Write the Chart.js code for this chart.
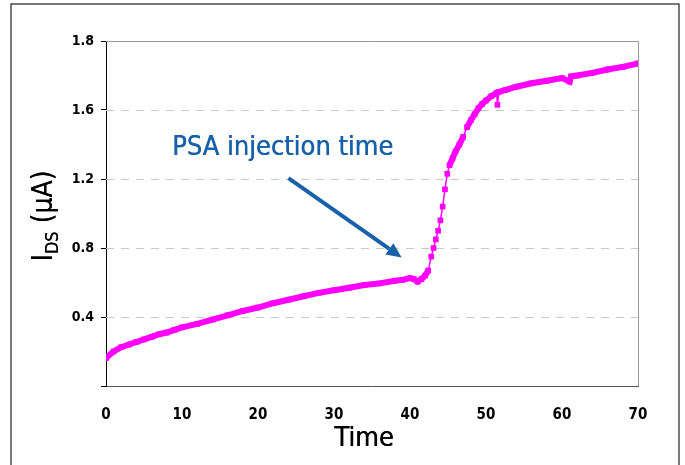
<!DOCTYPE html>
<html>
<head>
<meta charset="utf-8">
<script src="https://cdn.jsdelivr.net/npm/chart.js@4"></script>
<style>
  body { margin: 0; background: #fff; }
  #wrap { width: 685px; height: 465px; position: relative; }
</style>
</head>
<body>
<div id="wrap"><canvas id="chart" width="685" height="465"></canvas></div>
<script>
// time (min) and drain current readings
const times = [0, 1, 2, 3, 4, 5, 6, 7, 8, 9, 10, 12, 14, 16, 18, 20, 22, 24, 26, 28, 30, 32, 34, 36, 38, 39, 40, 40.5, 41, 41.5, 42, 42.4, 42.8, 43.1, 43.4, 43.7, 44.0, 44.3, 44.6, 44.9, 45.2, 45.6, 46.0, 46.5, 47.0, 47.5, 48.0, 48.5, 49.0, 49.5, 50.0, 50.7, 51.4, 51.5, 51.7, 52.5, 54, 56, 58, 60, 61, 61.2, 62, 64, 66, 68, 70];
const current = [0.162, 0.20, 0.225, 0.24, 0.255, 0.27, 0.285, 0.30, 0.31, 0.325, 0.34, 0.36, 0.385, 0.41, 0.435, 0.455, 0.48, 0.50, 0.52, 0.54, 0.555, 0.57, 0.585, 0.595, 0.61, 0.615, 0.625, 0.62, 0.605, 0.62, 0.64, 0.67, 0.75, 0.80, 0.85, 0.90, 0.96, 1.04, 1.14, 1.23, 1.28, 1.32, 1.36, 1.40, 1.445, 1.50, 1.54, 1.575, 1.61, 1.635, 1.655, 1.68, 1.70, 1.63, 1.705, 1.715, 1.735, 1.755, 1.77, 1.785, 1.765, 1.795, 1.80, 1.815, 1.835, 1.85, 1.87];

const xTicks = [0, 10, 20, 30, 40, 50, 60, 70];
const yTickValues = [0, 0.4, 0.8, 1.2, 1.6, 2.0];
const yTickLabels = ["", "0.4", "0.8", "1.2", "1.6", "1.8"];
const gridValues = [0.4, 0.8, 1.2, 1.6];

const annotationText = "PSA injection time";
const arrowFrom = { x: 24.0, y: 1.205 };   // in data units
const arrowTo = { x: 38.9, y: 0.745 };

const FONT = "'DejaVu Sans Condensed', 'DejaVu Sans', sans-serif";
const BLUE = "#1761a8";

const points = times.map((t, i) => ({ x: t, y: current[i] }));

const extras = {
  id: "extras",
  beforeDatasetsDraw(chart) {
    const c = chart.ctx, a = chart.chartArea, y = chart.scales.y;
    c.save();
    // dashed grid lines
    c.strokeStyle = "#c8c8c8";
    c.lineWidth = 1;
    c.setLineDash([8, 7]);
    gridValues.forEach(v => {
      const py = Math.round(y.getPixelForValue(v)) + 0.5;
      c.beginPath(); c.moveTo(a.left, py); c.lineTo(a.right, py); c.stroke();
    });
    c.setLineDash([]);
    // top and right edge of plot box
    c.strokeStyle = "#999";
    c.beginPath();
    c.moveTo(a.left, a.top + 0.5); c.lineTo(a.right + 0.5, a.top + 0.5); c.lineTo(a.right + 0.5, a.bottom);
    c.stroke();
    c.restore();
  },
  afterDraw(chart) {
    const c = chart.ctx, xs = chart.scales.x, ys = chart.scales.y;
    c.save();
    // outer frame
    c.strokeStyle = "#222";
    c.lineWidth = 1.2;
    c.strokeRect(11, 4, 668, 480);

    // x title
    c.fillStyle = "#000";
    c.font = "27px " + FONT;
    c.textAlign = "center";
    c.textBaseline = "alphabetic";
    c.fillText("Time", 364, 446);
    c.fillText("Time", 364.4, 446);

    // y title: I_DS (μA)
    c.translate(52, 216);
    c.rotate(-Math.PI / 2);
    const big = "28px " + FONT, small = "18px " + FONT;
    c.font = big; const wI = c.measureText("I").width;
    c.font = small; const wDS = c.measureText("DS").width;
    c.font = big; const wRest = c.measureText(" (μA)").width;
    let x0 = -(wI + wDS + wRest) / 2;
    c.textAlign = "left";
    [0, 0.4].forEach(d => {
      let xx = x0;
      c.font = big; c.fillText("I", xx, d); xx += wI;
      c.font = small; c.fillText("DS", xx, 6 + d); xx += wDS;
      c.font = big; c.fillText(" (μA)", xx, d);
    });
    c.setTransform(1, 0, 0, 1, 0, 0);

    // annotation
    c.fillStyle = BLUE;
    c.font = "27px " + FONT;
    c.textAlign = "left";
    c.fillText(annotationText, 172, 155);
    c.fillText(annotationText, 172.4, 155);

    const x1 = xs.getPixelForValue(arrowFrom.x), y1 = ys.getPixelForValue(arrowFrom.y);
    const x2 = xs.getPixelForValue(arrowTo.x), y2 = ys.getPixelForValue(arrowTo.y);
    const ang = Math.atan2(y2 - y1, x2 - x1);
    const head = 15, hw = 7;
    const bx = x2 - head * Math.cos(ang), by = y2 - head * Math.sin(ang);
    c.strokeStyle = BLUE;
    c.lineWidth = 4;
    c.beginPath(); c.moveTo(x1, y1); c.lineTo(bx, by); c.stroke();
    c.beginPath();
    c.moveTo(x2, y2);
    c.lineTo(bx + hw * Math.sin(ang), by - hw * Math.cos(ang));
    c.lineTo(bx - hw * Math.sin(ang), by + hw * Math.cos(ang));
    c.closePath(); c.fill();
    c.restore();
  }
};

new Chart(document.getElementById("chart"), {
  type: "scatter",
  data: {
    datasets: [{
      data: points,
      showLine: true,
      borderColor: "#ff00ff",
      backgroundColor: "#ff00ff",
      borderWidth: 6,
      pointStyle: "rect",
      pointRadius: 4,
      pointBorderWidth: 0,
      segment: {
        borderWidth: ctx => Math.abs(ctx.p1.y - ctx.p0.y) > 8 ? 1.5 : 6
      }
    }]
  },
  options: {
    responsive: false,
    animation: false,
    devicePixelRatio: 1,
    layout: { padding: { left: 0, top: 41, right: 47, bottom: 0 } },
    plugins: { legend: { display: false }, tooltip: { enabled: false } },
    scales: {
      x: {
        type: "linear",
        min: 0, max: 70,
        afterFit: s => { s.height = 79; },
        afterBuildTicks: s => { s.ticks = xTicks.map(v => ({ value: v })); },
        grid: { display: false },
        border: { color: "#555", width: 1 },
        ticks: { color: "#000", padding: 12, maxRotation: 0, font: { family: FONT, size: 15, weight: "bold" } }
      },
      y: {
        min: 0, max: 2.0,
        afterFit: s => { s.width = 106; },
        afterBuildTicks: s => { s.ticks = yTickValues.map(v => ({ value: v })); },
        grid: { drawOnChartArea: false, drawTicks: true, tickLength: 5, color: "#000" },
        border: { color: "#000", width: 1 },
        ticks: {
          color: "#000", padding: 7,
          font: { family: FONT, size: 14, weight: "bold" },
          callback: (v, i) => yTickLabels[i]
        }
      }
    }
  },
  plugins: [extras]
});
</script>
</body>
</html>
